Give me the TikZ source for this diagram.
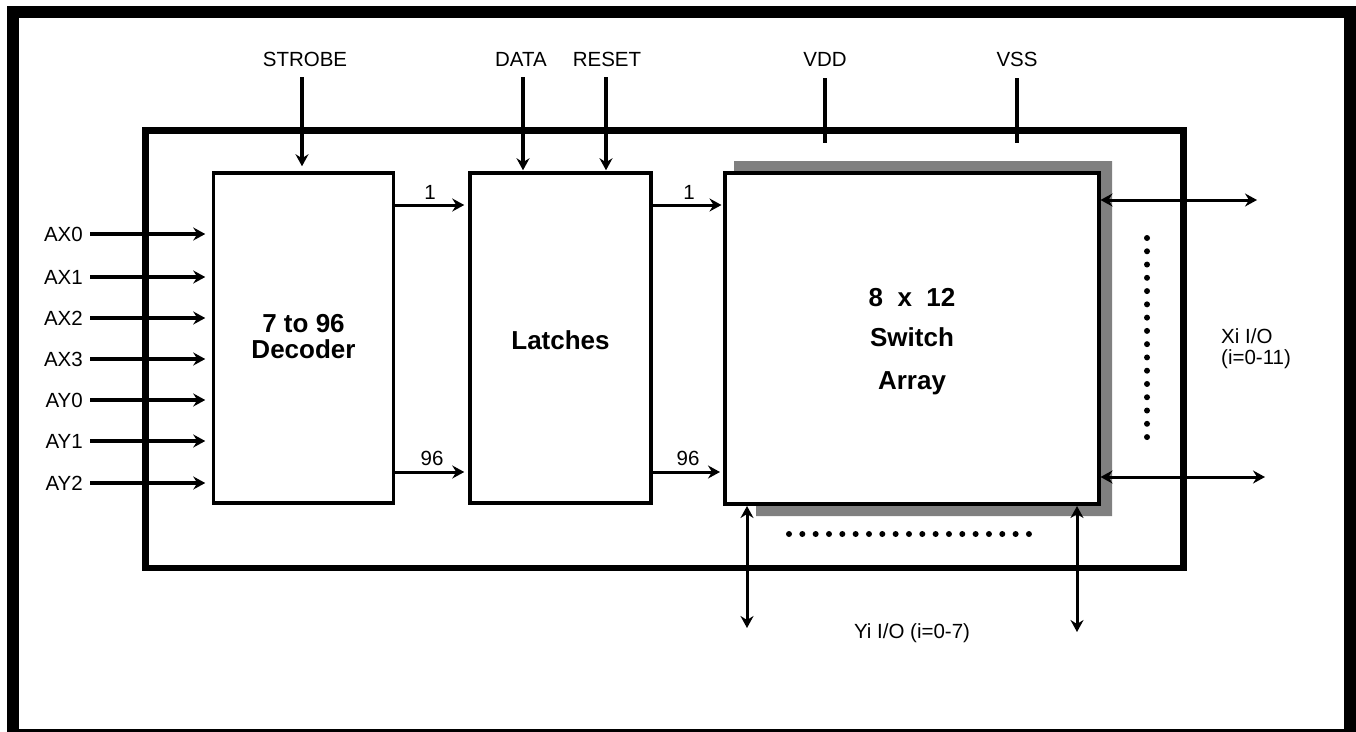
\documentclass[tikz,border=0pt]{standalone}
\usepackage{fontspec}
\setmainfont{Liberation Sans}
\usetikzlibrary{arrows.meta,calc}
\begin{document}
\begin{tikzpicture}[x=1pt,y=-1pt,
  lbl/.style={font=\fontsize{20.5}{21}\selectfont, inner sep=0pt, anchor=base},
  big/.style={font=\fontsize{26}{26}\selectfont\bfseries, inner sep=0pt, anchor=base},
  blk/.style={draw, line width=3.5pt, fill=white, inner sep=0pt},
  tipA/.tip={Stealth[length=12pt,width=13pt,inset=4pt]},
  arr/.style={line width=3.5pt, -tipA},
  arrthin/.style={line width=3pt, -tipA},
  darr/.style={line width=3pt, tipA-tipA},
  pin/.style={line width=4pt},
  dot/.style={fill=black}
]
\useasboundingbox (0,0) rectangle (1356,731);
% outer frame
\draw[line width=12pt] (13,12) rectangle (1350,735);
% chip border
\draw[line width=6.5pt] (145.5,130.5) rectangle (1183.5,568);
% shadow
\fill[black!50] (734,161) -- (1112,161) -- (1112,516) -- (756,516) -- (756,504) -- (734,504) -- cycle;
% blocks
\node[blk, minimum width=180pt, minimum height=330pt] (dec) at (303.5,338) {};
\node[blk, minimum width=181pt, minimum height=330pt] (lat) at (560.5,338) {};
\node[blk, line width=4pt, minimum width=373.5pt, minimum height=331.5pt] (sw) at (911.75,338.25) {};
% block texts
\node[big] (dect1) at (303.5,332) {7 to 96};
\node[big] (dect2) at (303.5,358) {Decoder};
\node[big] (latt) at (560.5,349) {Latches};
\node[big] (swt1) at (912,306) {8\ \ x\ \ 12};
\node[big] (swt2) at (912,346) {Switch};
\node[big] (swt3) at (912,389) {Array};
% inputs
\foreach \n/\y in {AX0/234,AX1/277,AX2/318,AX3/359,AY0/400,AY1/441,AY2/483}{
  \node[lbl, anchor=base east] (\n) at (83,\y+7.3) {\n};
  \coordinate (\n s) at (90,\y);
  \draw[arr, shorten >=6.5pt] (\n s) -- (\n s -| dec.west);
}
% top labels
\node[lbl] (strobe) at (305,66) {STROBE};
\node[lbl] (data) at (521,66) {DATA};
\node[lbl] (reset) at (607,66) {RESET};
\node[lbl] (vdd) at (825,66) {VDD};
\node[lbl] (vss) at (1017,66) {VSS};
\coordinate (strobeS) at (302,77);
\coordinate (dataS) at (523,77);
\coordinate (resetS) at (606,77);
\draw[arr, shorten >=5pt] (strobeS) -- (strobeS |- dec.north);
\draw[arr, shorten >=1pt] (dataS) -- (dataS |- lat.north);
\draw[arr, shorten >=1pt] (resetS) -- (resetS |- lat.north);
\coordinate (vddS) at (825,78);
\coordinate (vssS) at (1017,78);
\draw[pin] (vddS) -- ++(0,65);
\draw[pin] (vssS) -- ++(0,65);
% internal buses
\coordinate (r1) at (0,205);
\coordinate (r2) at (0,472);
\draw[arrthin, shorten >=4pt] (dec.east |- r1) -- (lat.west |- r1);
\draw[arrthin, shorten >=4pt] (dec.east |- r2) -- (lat.west |- r2);
\draw[arrthin, shorten >=1.5pt] (lat.east |- r1) -- (sw.west |- r1);
\draw[arrthin, shorten >=3pt] (lat.east |- r2) -- (sw.west |- r2);
\node[lbl] (n1a) at (430,199.5) {1};
\node[lbl] (n96a) at (432,465.5) {96};
\node[lbl] (n1b) at (689,199.5) {1};
\node[lbl] (n96b) at (688,465.5) {96};
% X I/O
\coordinate (x1) at (1257,200);
\coordinate (x2) at (1265,477);
\draw[darr] (sw.east |- x1) -- (x1);
\draw[darr] (sw.east |- x2) -- (x2);
\foreach \i in {0,...,15} \fill[dot] (1147,238+\i*13.27) circle (3pt);
\node[lbl, anchor=base west] (xio1) at (1221,343) {Xi I/O};
\node[lbl, anchor=base west] (xio2) at (1221,364) {(i=0-11)};
% Y I/O
\coordinate (y1) at (747,628);
\coordinate (y2) at (1077,632);
\draw[darr] (sw.south -| y1) -- (y1);
\draw[darr] (sw.south -| y2) -- (y2);
\foreach \i in {0,...,18} \fill[dot] (789+\i*13.33,534) circle (3pt);
\node[lbl] (yio) at (912,638.5) {Yi I/O (i=0-7)};
\end{tikzpicture}
\end{document}
